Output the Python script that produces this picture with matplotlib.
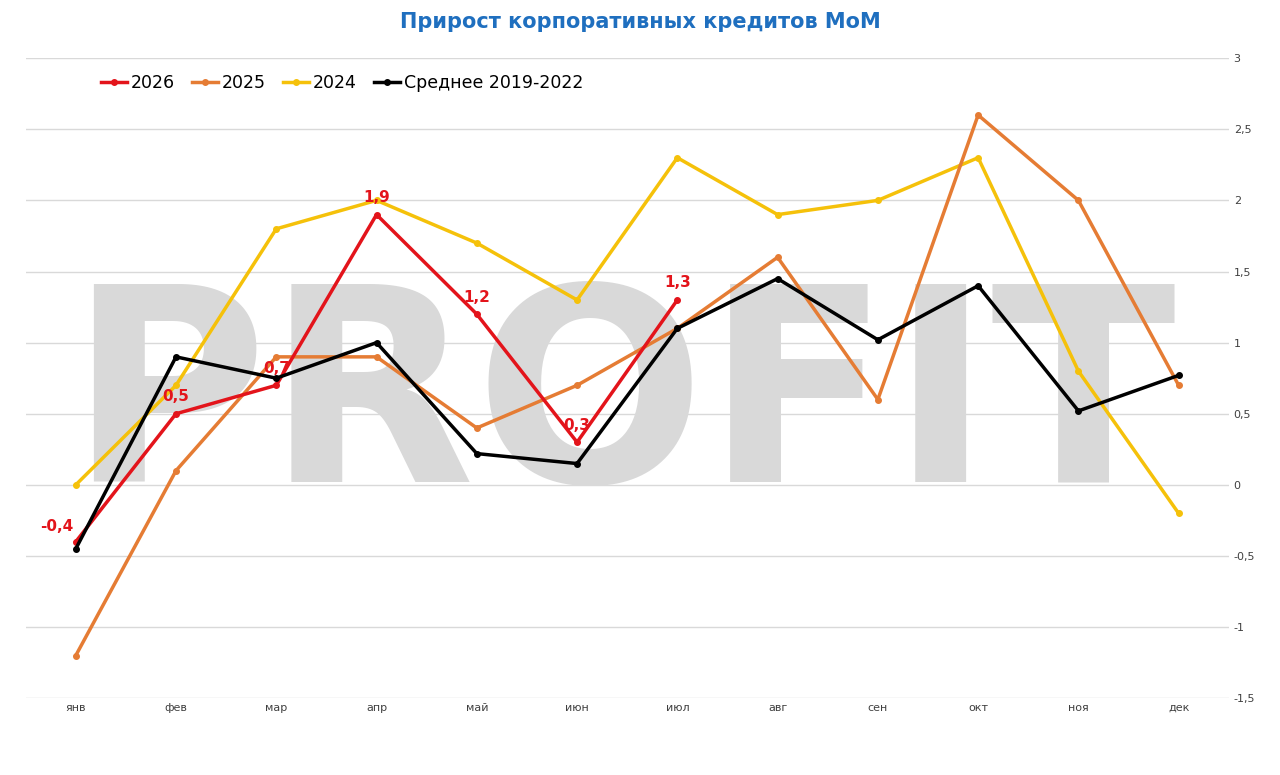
import numpy as np
import matplotlib.pyplot as plt
from matplotlib.ticker import FuncFormatter

months = ['янв', 'фев', 'мар', 'апр', 'май', 'июн', 'июл', 'авг', 'сен', 'окт', 'ноя', 'дек']
y2026 = [-0.4, 0.5, 0.7, 1.9, 1.2, 0.3, 1.3]
y2025 = [-1.2, 0.1, 0.9, 0.9, 0.4, 0.7, 1.1, 1.6, 0.6, 2.6, 2.0, 0.7]
y2024 = [0.0, 0.7, 1.8, 2.0, 1.7, 1.3, 2.3, 1.9, 2.0, 2.3, 0.8, -0.2]
avg = [-0.45, 0.9, 0.75, 1.0, 0.22, 0.15, 1.1, 1.45, 1.02, 1.4, 0.52, 0.77]

fig = plt.figure(figsize=(12.8, 7.75), dpi=100)
ax = fig.add_axes([0.02, 0.099, 0.94, 0.826])
x = np.arange(12)

# watermark
ax.text(5.45, 0.55, 'PROFIT', fontsize=195, fontweight='bold', color='#d9d9d9',
        ha='center', va='center', zorder=0, family='DejaVu Sans')

ax.plot(x, y2024, color='#f5c10a', lw=2.5, marker='o', ms=4, label='2024', zorder=2)
ax.plot(x, y2025, color='#e57c34', lw=2.5, marker='o', ms=4, label='2025', zorder=3)
ax.plot(x[:len(y2026)], y2026, color='#e3141b', lw=2.5, marker='o', ms=4, label='2026', zorder=4)
ax.plot(x, avg, color='black', lw=2.5, marker='o', ms=4, label='Среднее 2019-2022', zorder=5)

offsets = [(-14, 8), (0, 9), (0, 9), (0, 9), (0, 9), (0, 9), (0, 9)]
for i, v in enumerate(y2026):
    ax.annotate(f'{v:.1f}'.replace('.', ','), (i, v), xytext=offsets[i], textcoords='offset points',
                ha='center', color='#e3141b', fontsize=11, fontweight='bold', zorder=6)

h, l = ax.get_legend_handles_labels()
order = [2, 1, 0, 3]
ax.legend([h[i] for i in order], [l[i] for i in order], loc='upper left', ncol=4, frameon=False,
          fontsize=12.5, bbox_to_anchor=(0.05, 1.0), handlelength=1.5, columnspacing=1.0, handletextpad=0.2)

ax.set_ylim(-1.5, 3)
ax.set_xlim(-0.5, 11.5)
ax.set_yticks(np.arange(-1.5, 3.01, 0.5))
ax.yaxis.set_major_formatter(FuncFormatter(lambda v, p: f'{v:g}'.replace('.', ',')))
ax.yaxis.tick_right()
ax.set_xticks(x)
ax.set_xticklabels(months)
ax.tick_params(length=0, labelsize=8, colors='#404040')
ax.grid(axis='y', color='#d9d9d9', lw=1)
ax.set_axisbelow(True)
for s in ax.spines.values():
    s.set_visible(False)

fig.suptitle('Прирост корпоративных кредитов MoM', color='#1f6fbf', fontsize=15,
             fontweight='bold', y=0.985)
fig.savefig('out.png')
